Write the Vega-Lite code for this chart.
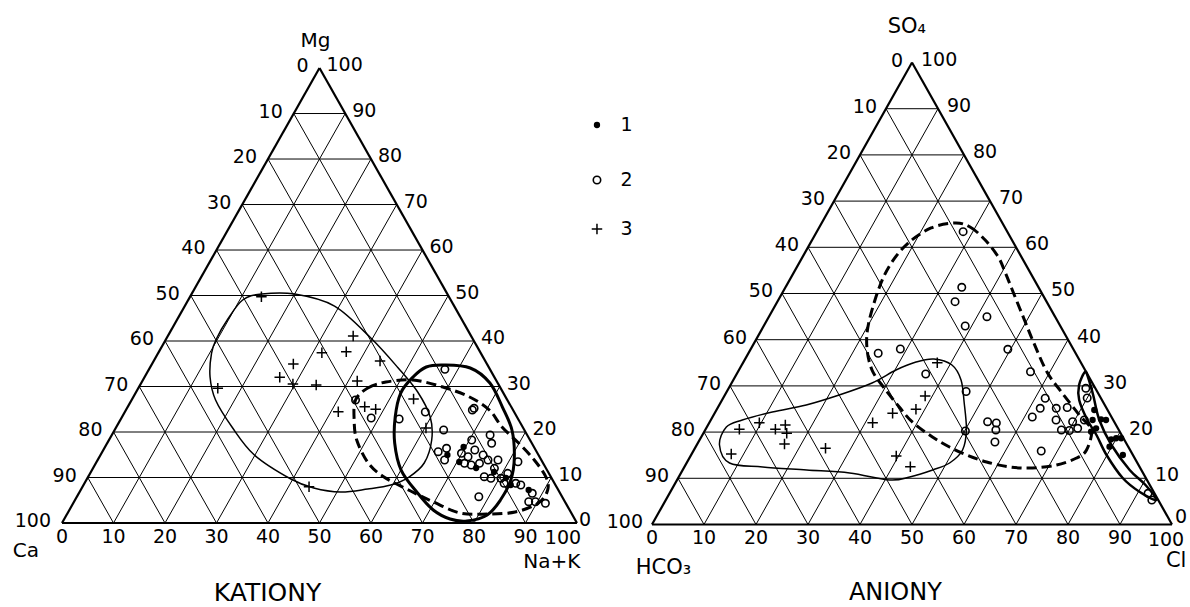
{
"$schema": "https://vega.github.io/schema/vega-lite/v6.json",
"padding": 0,
"background": "white",
"spacing": 0,
"bounds": "flush",
"config": {"view": {"stroke": null}, "concat": {"spacing": 0}, "text": {"font": "DejaVu Sans", "color": "black"}},
"datasets": {
"grid": [
{"kind":"grid","u":5,"v":10,"u2":95,"v2":10},{"kind":"grid","u":10,"v":20,"u2":90,"v2":20},{"kind":"grid","u":15,"v":30,"u2":85,"v2":30},{"kind":"grid","u":20,"v":40,"u2":80,"v2":40},{"kind":"grid","u":25,"v":50,"u2":75,"v2":50},{"kind":"grid","u":30,"v":60,"u2":70,"v2":60},{"kind":"grid","u":35,"v":70,"u2":65,"v2":70},{"kind":"grid","u":40,"v":80,"u2":60,"v2":80},{"kind":"grid","u":45,"v":90,"u2":55,"v2":90},
{"kind":"grid","u":10,"v":0,"u2":55,"v2":90},{"kind":"grid","u":20,"v":0,"u2":60,"v2":80},{"kind":"grid","u":30,"v":0,"u2":65,"v2":70},{"kind":"grid","u":40,"v":0,"u2":70,"v2":60},{"kind":"grid","u":50,"v":0,"u2":75,"v2":50},{"kind":"grid","u":60,"v":0,"u2":80,"v2":40},{"kind":"grid","u":70,"v":0,"u2":85,"v2":30},{"kind":"grid","u":80,"v":0,"u2":90,"v2":20},{"kind":"grid","u":90,"v":0,"u2":95,"v2":10},
{"kind":"grid","u":90,"v":0,"u2":45,"v2":90},{"kind":"grid","u":80,"v":0,"u2":40,"v2":80},{"kind":"grid","u":70,"v":0,"u2":35,"v2":70},{"kind":"grid","u":60,"v":0,"u2":30,"v2":60},{"kind":"grid","u":50,"v":0,"u2":25,"v2":50},{"kind":"grid","u":40,"v":0,"u2":20,"v2":40},{"kind":"grid","u":30,"v":0,"u2":15,"v2":30},{"kind":"grid","u":20,"v":0,"u2":10,"v2":20},{"kind":"grid","u":10,"v":0,"u2":5,"v2":10},
{"kind":"frame","u":0,"v":0,"u2":100,"v2":0},{"kind":"frame","u":0,"v":0,"u2":50,"v2":100},{"kind":"frame","u":100,"v":0,"u2":50,"v2":100}
],
"ticks": [
{"edge":"L","t":"0","u":50,"v":100},{"edge":"L","t":"10","u":45,"v":90},{"edge":"L","t":"20","u":40,"v":80},{"edge":"L","t":"30","u":35,"v":70},{"edge":"L","t":"40","u":30,"v":60},{"edge":"L","t":"50","u":25,"v":50},{"edge":"L","t":"60","u":20,"v":40},{"edge":"L","t":"70","u":15,"v":30},{"edge":"L","t":"80","u":10,"v":20},{"edge":"L","t":"90","u":5,"v":10},{"edge":"L","t":"100","u":0,"v":0},
{"edge":"R","t":"0","u":100,"v":0},{"edge":"R","t":"10","u":95,"v":10},{"edge":"R","t":"20","u":90,"v":20},{"edge":"R","t":"30","u":85,"v":30},{"edge":"R","t":"40","u":80,"v":40},{"edge":"R","t":"50","u":75,"v":50},{"edge":"R","t":"60","u":70,"v":60},{"edge":"R","t":"70","u":65,"v":70},{"edge":"R","t":"80","u":60,"v":80},{"edge":"R","t":"90","u":55,"v":90},{"edge":"R","t":"100","u":50,"v":100},
{"edge":"B","t":"0","u":0,"v":0},{"edge":"B","t":"10","u":10,"v":0},{"edge":"B","t":"20","u":20,"v":0},{"edge":"B","t":"30","u":30,"v":0},{"edge":"B","t":"40","u":40,"v":0},{"edge":"B","t":"50","u":50,"v":0},{"edge":"B","t":"60","u":60,"v":0},{"edge":"B","t":"70","u":70,"v":0},{"edge":"B","t":"80","u":80,"v":0},{"edge":"B","t":"90","u":90,"v":0},{"edge":"B","t":"100","u":100,"v":0}
],
"titles": [
{"panel":"K","role":"axis","t":"Mg","u":49.2,"v":106.0},{"panel":"K","role":"axis","t":"Ca","u":-7.0,"v":-6.2},{"panel":"K","role":"axis","t":"Na+K","u":95.1,"v":-8.6},{"panel":"K","role":"name","t":"KATIONY","u":39.9,"v":-15.3},
{"panel":"A","role":"axis","t":"SO₄","u":49.0,"v":107.7},{"panel":"A","role":"axis","t":"HCO₃","u":2.2,"v":-9.4},{"panel":"A","role":"axis","t":"Cl","u":100.8,"v":-7.9},{"panel":"A","role":"name","t":"ANIONY","u":46.8,"v":-14.9}
],
"legend": [
{"type":1,"t":"1","u":-10.58,"lu":-4.9,"v":86.47},{"type":2,"t":"2","u":-10.58,"lu":-4.9,"v":74.57},{"type":3,"t":"3","u":-10.58,"lu":-4.9,"v":63.96}
],
"points": [
{"panel":"K","type":3,"u":38.72,"v":49.74},{"panel":"K","type":3,"u":56.54,"v":41.10},{"panel":"K","type":3,"u":55.20,"v":37.65},{"panel":"K","type":3,"u":50.46,"v":37.43},{"panel":"K","type":3,"u":44.92,"v":34.95},{"panel":"K","type":3,"u":42.28,"v":32.02},{"panel":"K","type":3,"u":44.84,"v":30.55},{"panel":"K","type":3,"u":49.36,"v":30.33},{"panel":"K","type":3,"u":30.25,"v":29.60},{"panel":"K","type":3,"u":61.76,"v":35.60},{"panel":"K","type":3,"u":57.33,"v":31.21},{"panel":"K","type":3,"u":53.65,"v":24.46},{"panel":"K","type":3,"u":58.78,"v":25.56},{"panel":"K","type":3,"u":60.91,"v":24.99},{"panel":"K","type":3,"u":68.27,"v":27.25},{"panel":"K","type":3,"u":47.97,"v":7.98},{"panel":"K","type":3,"u":70.68,"v":20.88},
{"panel":"K","type":2,"u":57.00,"v":27.03},{"panel":"K","type":2,"u":60.04,"v":23.08},{"panel":"K","type":2,"u":70.55,"v":24.40},{"panel":"K","type":2,"u":65.47,"v":22.86},{"panel":"K","type":2,"u":74.11,"v":20.44},{"panel":"K","type":2,"u":80.02,"v":25.21},{"panel":"K","type":2,"u":74.35,"v":33.78},{"panel":"K","type":2,"u":79.56,"v":18.24},{"panel":"K","type":2,"u":83.13,"v":19.34},{"panel":"K","type":2,"u":83.43,"v":17.52},{"panel":"K","type":2,"u":73.05,"v":15.67},{"panel":"K","type":2,"u":74.67,"v":16.42},{"panel":"K","type":2,"u":74.29,"v":13.85},{"panel":"K","type":2,"u":77.57,"v":15.32},{"panel":"K","type":2,"u":78.85,"v":14.57},{"panel":"K","type":2,"u":80.16,"v":16.04},{"panel":"K","type":2,"u":81.77,"v":14.95},{"panel":"K","type":2,"u":78.16,"v":13.12},{"panel":"K","type":2,"u":79.46,"v":12.75},{"panel":"K","type":2,"u":81.07,"v":13.12},{"panel":"K","type":2,"u":82.72,"v":13.85},{"panel":"K","type":2,"u":84.66,"v":13.85},{"panel":"K","type":2,"u":83.97,"v":12.02},{"panel":"K","type":2,"u":82.0,"v":10.18},{"panel":"K","type":2,"u":83.29,"v":9.82},{"panel":"K","type":2,"u":85.23,"v":9.82},{"panel":"K","type":2,"u":86.55,"v":10.92},{"panel":"K","type":2,"u":85.85,"v":8.73},{"panel":"K","type":2,"u":88.12,"v":8.73},{"panel":"K","type":2,"u":89.09,"v":8.35},{"panel":"K","type":2,"u":80.94,"v":5.78},{"panel":"K","type":2,"u":88.54,"v":13.47},{"panel":"K","type":2,"u":91.32,"v":6.53},{"panel":"K","type":2,"u":90.63,"v":4.68},{"panel":"K","type":2,"u":91.93,"v":4.68},{"panel":"K","type":2,"u":93.87,"v":4.33},{"panel":"K","type":2,"u":79.68,"v":24.84},
{"panel":"K","type":1,"u":74.84,"v":14.95},{"panel":"K","type":1,"u":77.14,"v":13.41},{"panel":"K","type":1,"u":80.42,"v":12.09},{"panel":"K","type":1,"u":83.89,"v":11.21},{"panel":"K","type":1,"u":86.20,"v":9.89},{"panel":"K","type":1,"u":87.14,"v":8.35},{"panel":"K","type":1,"u":77.98,"v":16.70},{"panel":"K","type":1,"u":90.62,"v":7.25},
{"panel":"A","type":3,"u":16.80,"v":20.61},{"panel":"A","type":3,"u":20.64,"v":22.03},{"panel":"A","type":3,"u":23.73,"v":20.61},{"panel":"A","type":3,"u":25.64,"v":21.54},{"panel":"A","type":3,"u":25.91,"v":19.74},{"panel":"A","type":3,"u":25.48,"v":17.42},{"panel":"A","type":3,"u":15.24,"v":15.26},{"panel":"A","type":3,"u":33.37,"v":16.49},{"panel":"A","type":3,"u":42.43,"v":22.03},{"panel":"A","type":3,"u":46.27,"v":24.07},{"panel":"A","type":3,"u":50.76,"v":24.94},{"panel":"A","type":3,"u":52.53,"v":27.81},{"panel":"A","type":3,"u":54.86,"v":35.02},{"panel":"A","type":3,"u":46.97,"v":14.83},{"panel":"A","type":3,"u":49.68,"v":12.51},
{"panel":"A","type":2,"u":59.83,"v":63.38},{"panel":"A","type":2,"u":59.57,"v":51.34},{"panel":"A","type":2,"u":58.28,"v":48.23},{"panel":"A","type":2,"u":64.41,"v":44.98},{"panel":"A","type":2,"u":60.23,"v":42.97},{"panel":"A","type":2,"u":43.50,"v":37.06},{"panel":"A","type":2,"u":47.76,"v":37.99},{"panel":"A","type":2,"u":52.64,"v":32.58},{"panel":"A","type":2,"u":60.41,"v":28.79},{"panel":"A","type":2,"u":60.27,"v":20.24},{"panel":"A","type":2,"u":68.43,"v":37.92},{"panel":"A","type":2,"u":72.79,"v":33.07},{"panel":"A","type":2,"u":64.54,"v":22.25},{"panel":"A","type":2,"u":66.22,"v":21.97},{"panel":"A","type":2,"u":66.13,"v":20.45},{"panel":"A","type":2,"u":65.95,"v":17.86},{"panel":"A","type":2,"u":74.85,"v":15.91},{"panel":"A","type":2,"u":75.61,"v":27.32},{"panel":"A","type":2,"u":74.66,"v":25.15},{"panel":"A","type":2,"u":73.13,"v":23.27},{"panel":"A","type":2,"u":77.74,"v":25.15},{"panel":"A","type":2,"u":79.85,"v":25.32},{"panel":"A","type":2,"u":77.70,"v":22.62},{"panel":"A","type":2,"u":78.73,"v":20.45},{"panel":"A","type":2,"u":80.89,"v":22.25},{"panel":"A","type":2,"u":81.86,"v":20.82},{"panel":"A","type":2,"u":83.14,"v":22.62},{"panel":"A","type":2,"u":83.43,"v":29.48},{"panel":"A","type":2,"u":95.40,"v":6.75},{"panel":"A","type":2,"u":83.69,"v":27.38},{"panel":"A","type":2,"u":80.27,"v":20.35},{"panel":"A","type":2,"u":96.12,"v":5.3},
{"panel":"A","type":1,"u":85.05,"v":24.78},{"panel":"A","type":1,"u":84.73,"v":22.62},{"panel":"A","type":1,"u":86.35,"v":22.77},{"panel":"A","type":1,"u":87.31,"v":22.62},{"panel":"A","type":1,"u":88.30,"v":18.44},{"panel":"A","type":1,"u":89.26,"v":18.66},{"panel":"A","type":1,"u":90.22,"v":18.66},{"panel":"A","type":1,"u":87.98,"v":16.84},{"panel":"A","type":1,"u":90.55,"v":15.04},{"panel":"A","type":1,"u":84.44,"v":20.09},{"panel":"A","type":1,"u":85.40,"v":20.82}
],
"curves": [
{"panel":"K","curve":"A","style":"thin","o":1,"u":45.20,"v":50.33},{"panel":"K","curve":"A","style":"thin","o":2,"u":52.92,"v":47.69},{"panel":"K","curve":"A","style":"thin","o":3,"u":59.97,"v":40.66},{"panel":"K","curve":"A","style":"thin","o":4,"u":65.29,"v":34.07},{"panel":"K","curve":"A","style":"thin","o":5,"u":69.07,"v":28.79},{"panel":"K","curve":"A","style":"thin","o":6,"u":71.50,"v":23.30},{"panel":"K","curve":"A","style":"thin","o":7,"u":71.79,"v":18.24},{"panel":"K","curve":"A","style":"thin","o":8,"u":70.34,"v":13.19},{"panel":"K","curve":"A","style":"thin","o":9,"u":67.37,"v":10.11},{"panel":"K","curve":"A","style":"thin","o":10,"u":63.84,"v":8.35},{"panel":"K","curve":"A","style":"thin","o":11,"u":59.36,"v":7.47},{"panel":"K","curve":"A","style":"thin","o":12,"u":54.11,"v":6.81},{"panel":"K","curve":"A","style":"thin","o":13,"u":48.88,"v":7.69},{"panel":"K","curve":"A","style":"thin","o":14,"u":44.45,"v":9.67},{"panel":"K","curve":"A","style":"thin","o":15,"u":37.36,"v":14.95},{"panel":"K","curve":"A","style":"thin","o":16,"u":33.01,"v":21.10},{"panel":"K","curve":"A","style":"thin","o":17,"u":29.82,"v":27.03},{"panel":"K","curve":"A","style":"thin","o":18,"u":28.75,"v":32.09},{"panel":"K","curve":"A","style":"thin","o":19,"u":29.04,"v":37.36},{"panel":"K","curve":"A","style":"thin","o":20,"u":30.07,"v":40.66},{"panel":"K","curve":"A","style":"thin","o":21,"u":32.09,"v":44.62},{"panel":"K","curve":"A","style":"thin","o":22,"u":35.08,"v":49.01},{"panel":"K","curve":"A","style":"thin","o":23,"u":38.79,"v":50.33},
{"panel":"K","curve":"B","style":"dashed","o":1,"u":57.00,"v":27.03},{"panel":"K","curve":"B","style":"dashed","o":2,"u":59.38,"v":29.67},{"panel":"K","curve":"B","style":"dashed","o":3,"u":62.90,"v":30.99},{"panel":"K","curve":"B","style":"dashed","o":4,"u":68.15,"v":31.43},{"panel":"K","curve":"B","style":"dashed","o":5,"u":73.95,"v":29.89},{"panel":"K","curve":"B","style":"dashed","o":6,"u":79.15,"v":27.69},{"panel":"K","curve":"B","style":"dashed","o":7,"u":82.98,"v":24.84},{"panel":"K","curve":"B","style":"dashed","o":8,"u":85.44,"v":21.10},{"panel":"K","curve":"B","style":"dashed","o":9,"u":88.67,"v":17.58},{"panel":"K","curve":"B","style":"dashed","o":10,"u":91.71,"v":13.85},{"panel":"K","curve":"B","style":"dashed","o":11,"u":93.97,"v":10.11},{"panel":"K","curve":"B","style":"dashed","o":12,"u":94.31,"v":7.25},{"panel":"K","curve":"B","style":"dashed","o":13,"u":92.51,"v":4.40},{"panel":"K","curve":"B","style":"dashed","o":14,"u":88.01,"v":2.42},{"panel":"K","curve":"B","style":"dashed","o":15,"u":82.56,"v":1.98},{"panel":"K","curve":"B","style":"dashed","o":16,"u":77.32,"v":2.20},{"panel":"K","curve":"B","style":"dashed","o":17,"u":72.12,"v":4.62},{"panel":"K","curve":"B","style":"dashed","o":18,"u":67.70,"v":7.03},{"panel":"K","curve":"B","style":"dashed","o":19,"u":62.52,"v":10.11},{"panel":"K","curve":"B","style":"dashed","o":20,"u":59.47,"v":13.19},{"panel":"K","curve":"B","style":"dashed","o":21,"u":57.23,"v":18.24},{"panel":"K","curve":"B","style":"dashed","o":22,"u":56.73,"v":22.64},
{"panel":"K","curve":"C","style":"heavy","o":1,"u":74.04,"v":34.73},{"panel":"K","curve":"C","style":"heavy","o":2,"u":79.27,"v":34.07},{"panel":"K","curve":"C","style":"heavy","o":3,"u":83.09,"v":30.77},{"panel":"K","curve":"C","style":"heavy","o":4,"u":85.52,"v":25.49},{"panel":"K","curve":"C","style":"heavy","o":5,"u":87.37,"v":20.44},{"panel":"K","curve":"C","style":"heavy","o":6,"u":87.84,"v":14.51},{"panel":"K","curve":"C","style":"heavy","o":7,"u":87.16,"v":9.45},{"panel":"K","curve":"C","style":"heavy","o":8,"u":85.14,"v":5.05},{"panel":"K","curve":"C","style":"heavy","o":9,"u":82.56,"v":1.76},{"panel":"K","curve":"C","style":"heavy","o":10,"u":78.65,"v":0.44},{"panel":"K","curve":"C","style":"heavy","o":11,"u":75.36,"v":0.88},{"panel":"K","curve":"C","style":"heavy","o":12,"u":72.09,"v":2.86},{"panel":"K","curve":"C","style":"heavy","o":13,"u":69.05,"v":6.59},{"panel":"K","curve":"C","style":"heavy","o":14,"u":65.85,"v":11.65},{"panel":"K","curve":"C","style":"heavy","o":15,"u":64.60,"v":17.58},{"panel":"K","curve":"C","style":"heavy","o":16,"u":64.70,"v":23.30},{"panel":"K","curve":"C","style":"heavy","o":17,"u":65.77,"v":28.57},{"panel":"K","curve":"C","style":"heavy","o":18,"u":68.17,"v":32.09},{"panel":"K","curve":"C","style":"heavy","o":19,"u":70.73,"v":34.29},
{"panel":"A","curve":"D","style":"dashed","o":1,"u":58.28,"v":65.26},{"panel":"A","curve":"D","style":"dashed","o":2,"u":61.17,"v":64.39},{"panel":"A","curve":"D","style":"dashed","o":3,"u":64.07,"v":61.58},{"panel":"A","curve":"D","style":"dashed","o":4,"u":66.59,"v":57.90},{"panel":"A","curve":"D","style":"dashed","o":5,"u":67.96,"v":54.44},{"panel":"A","curve":"D","style":"dashed","o":6,"u":69.52,"v":50.11},{"panel":"A","curve":"D","style":"dashed","o":7,"u":71.86,"v":43.61},{"panel":"A","curve":"D","style":"dashed","o":8,"u":73.43,"v":39.29},{"panel":"A","curve":"D","style":"dashed","o":9,"u":75.96,"v":33.01},{"panel":"A","curve":"D","style":"dashed","o":10,"u":78.88,"v":28.46},{"panel":"A","curve":"D","style":"dashed","o":11,"u":82.17,"v":23.70},{"panel":"A","curve":"D","style":"dashed","o":12,"u":84.50,"v":20.45},{"panel":"A","curve":"D","style":"dashed","o":13,"u":83.56,"v":16.13},{"panel":"A","curve":"D","style":"dashed","o":14,"u":81.65,"v":14.39},{"panel":"A","curve":"D","style":"dashed","o":15,"u":77.81,"v":12.88},{"panel":"A","curve":"D","style":"dashed","o":16,"u":73.20,"v":12.23},{"panel":"A","curve":"D","style":"dashed","o":17,"u":68.78,"v":12.45},{"panel":"A","curve":"D","style":"dashed","o":18,"u":64.34,"v":13.53},{"panel":"A","curve":"D","style":"dashed","o":19,"u":60.49,"v":15.04},{"panel":"A","curve":"D","style":"dashed","o":20,"u":57.21,"v":16.77},{"panel":"A","curve":"D","style":"dashed","o":21,"u":53.93,"v":18.94},{"panel":"A","curve":"D","style":"dashed","o":22,"u":50.06,"v":22.19},{"panel":"A","curve":"D","style":"dashed","o":23,"u":47.55,"v":25.43},{"panel":"A","curve":"D","style":"dashed","o":24,"u":44.64,"v":29.55},{"panel":"A","curve":"D","style":"dashed","o":25,"u":42.31,"v":33.44},{"panel":"A","curve":"D","style":"dashed","o":26,"u":41.32,"v":38.42},{"panel":"A","curve":"D","style":"dashed","o":27,"u":41.67,"v":43.61},{"panel":"A","curve":"D","style":"dashed","o":28,"u":43.74,"v":51.41},{"panel":"A","curve":"D","style":"dashed","o":29,"u":46.02,"v":56.60},{"panel":"A","curve":"D","style":"dashed","o":30,"u":49.26,"v":60.93},{"panel":"A","curve":"D","style":"dashed","o":31,"u":53.67,"v":64.18},
{"panel":"A","curve":"E","style":"thin","o":1,"u":57.68,"v":34.52},{"panel":"A","curve":"E","style":"thin","o":2,"u":59.43,"v":31.28},{"panel":"A","curve":"E","style":"thin","o":3,"u":60.04,"v":26.30},{"panel":"A","curve":"E","style":"thin","o":4,"u":60.46,"v":20.45},{"panel":"A","curve":"E","style":"thin","o":5,"u":59.72,"v":16.13},{"panel":"A","curve":"E","style":"thin","o":6,"u":57.23,"v":13.31},{"panel":"A","curve":"E","style":"thin","o":7,"u":53.97,"v":11.80},{"panel":"A","curve":"E","style":"thin","o":8,"u":49.56,"v":10.28},{"panel":"A","curve":"E","style":"thin","o":9,"u":45.71,"v":9.63},{"panel":"A","curve":"E","style":"thin","o":10,"u":38.01,"v":11.15},{"panel":"A","curve":"E","style":"thin","o":11,"u":29.74,"v":11.80},{"panel":"A","curve":"E","style":"thin","o":12,"u":21.28,"v":12.45},{"panel":"A","curve":"E","style":"thin","o":13,"u":14.92,"v":13.31},{"panel":"A","curve":"E","style":"thin","o":14,"u":12.98,"v":17.21},{"panel":"A","curve":"E","style":"thin","o":15,"u":14.30,"v":21.10},{"panel":"A","curve":"E","style":"thin","o":16,"u":17.37,"v":22.62},{"panel":"A","curve":"E","style":"thin","o":17,"u":23.13,"v":24.35},{"panel":"A","curve":"E","style":"thin","o":18,"u":29.66,"v":25.87},{"panel":"A","curve":"E","style":"thin","o":19,"u":35.99,"v":28.03},{"panel":"A","curve":"E","style":"thin","o":20,"u":42.32,"v":30.63},{"panel":"A","curve":"E","style":"thin","o":21,"u":46.92,"v":33.44},{"panel":"A","curve":"E","style":"thin","o":22,"u":50.76,"v":35.17},{"panel":"A","curve":"E","style":"thin","o":23,"u":54.22,"v":35.82},
{"panel":"A","curve":"F","style":"heavy","o":1,"u":83.27,"v":33.01},{"panel":"A","curve":"F","style":"heavy","o":2,"u":82.13,"v":30.19},{"panel":"A","curve":"F","style":"heavy","o":3,"u":82.15,"v":26.95},{"panel":"A","curve":"F","style":"heavy","o":4,"u":83.72,"v":22.62},{"panel":"A","curve":"F","style":"heavy","o":5,"u":85.47,"v":19.37},{"panel":"A","curve":"F","style":"heavy","o":6,"u":87.41,"v":15.04},{"panel":"A","curve":"F","style":"heavy","o":7,"u":90.52,"v":10.06},{"panel":"A","curve":"F","style":"heavy","o":8,"u":93.81,"v":7.03},{"panel":"A","curve":"F","style":"heavy","o":9,"u":97.0,"v":5.30},{"panel":"A","curve":"F","style":"heavy","o":10,"u":94.9,"v":8.55},{"panel":"A","curve":"F","style":"heavy","o":11,"u":91.86,"v":11.80},{"panel":"A","curve":"F","style":"heavy","o":12,"u":88.36,"v":17.21},{"panel":"A","curve":"F","style":"heavy","o":13,"u":86.02,"v":22.62},{"panel":"A","curve":"F","style":"heavy","o":14,"u":84.84,"v":28.03},{"panel":"A","curve":"F","style":"heavy","o":15,"u":83.9,"v":31.71}
]
},
"hconcat": [
{
"width": 595, "height": 607,
"encoding": {
"x": {"field":"u","type":"quantitative","scale":{"domain":[-12.04,103.5],"nice":false,"zero":false},"axis":null},
"y": {"field":"v","type":"quantitative","scale":{"domain":[-18.46,114.95],"nice":false,"zero":false},"axis":null}
},
"layer": [
{"data":{"name":"grid"},"transform":[{"filter":"datum.kind=='grid'"}],"mark":{"type":"rule","color":"black","strokeWidth":1},"encoding":{"x2":{"field":"u2"},"y2":{"field":"v2"}}},
{"data":{"name":"grid"},"transform":[{"filter":"datum.kind=='frame'"}],"mark":{"type":"rule","color":"black","strokeWidth":2.2},"encoding":{"x2":{"field":"u2"},"y2":{"field":"v2"}}},
{"data":{"name":"curves"},"transform":[{"filter":"datum.panel=='K' && datum.style=='thin'"}],"mark":{"type":"line","interpolate":"cardinal-closed","color":"black","strokeWidth":1.5},"encoding":{"detail":{"field":"curve"},"order":{"field":"o","type":"quantitative"}}},
{"data":{"name":"curves"},"transform":[{"filter":"datum.panel=='K' && datum.style=='dashed'"}],"mark":{"type":"line","interpolate":"cardinal-closed","color":"black","strokeWidth":3,"strokeDash":[10,5]},"encoding":{"detail":{"field":"curve"},"order":{"field":"o","type":"quantitative"}}},
{"data":{"name":"curves"},"transform":[{"filter":"datum.panel=='K' && datum.style=='heavy'"}],"mark":{"type":"line","interpolate":"cardinal-closed","color":"black","strokeWidth":3},"encoding":{"detail":{"field":"curve"},"order":{"field":"o","type":"quantitative"}}},
{"data":{"name":"points"},"transform":[{"filter":"datum.panel=='K' && datum.type==2"}],"mark":{"type":"point","shape":"circle","filled":false,"color":"black","strokeWidth":1.6,"size":55,"opacity":1}},
{"data":{"name":"points"},"transform":[{"filter":"datum.panel=='K' && datum.type==1"}],"mark":{"type":"point","shape":"circle","filled":true,"color":"black","size":40,"opacity":1}},
{"data":{"name":"points"},"transform":[{"filter":"datum.panel=='K' && datum.type==3"}],"mark":{"type":"point","shape":"M-1,0H1M0,-1V1","filled":false,"color":"black","strokeWidth":1.5,"size":110,"opacity":1}},
{"data":{"name":"ticks"},"transform":[{"filter":"datum.edge=='L'"}],"mark":{"type":"text","align":"right","baseline":"middle","dx":-11,"dy":-2,"fontSize":19},"encoding":{"text":{"field":"t"}}},
{"data":{"name":"ticks"},"transform":[{"filter":"datum.edge=='R' && datum.t!='0'"}],"mark":{"type":"text","align":"left","baseline":"middle","dx":7,"dy":-3,"fontSize":19},"encoding":{"text":{"field":"t"}}},
{"data":{"name":"ticks"},"transform":[{"filter":"datum.edge=='R' && datum.t=='0'"}],"mark":{"type":"text","align":"left","baseline":"middle","dx":2,"dy":-3,"fontSize":19},"encoding":{"text":{"field":"t"}}},
{"data":{"name":"ticks"},"transform":[{"filter":"datum.edge=='B' && datum.t!='100'"}],"mark":{"type":"text","align":"center","baseline":"top","dy":5,"fontSize":19},"encoding":{"text":{"field":"t"}}},
{"data":{"name":"ticks"},"transform":[{"filter":"datum.edge=='B' && datum.t=='100'"}],"mark":{"type":"text","align":"center","baseline":"top","dx":-14,"dy":6,"fontSize":19},"encoding":{"text":{"field":"t"}}},
{"data":{"name":"titles"},"transform":[{"filter":"datum.panel=='K' && datum.role=='axis'"}],"mark":{"type":"text","align":"center","baseline":"middle","fontSize":20},"encoding":{"text":{"field":"t"}}},
{"data":{"name":"titles"},"transform":[{"filter":"datum.panel=='K' && datum.role=='name'"}],"mark":{"type":"text","align":"center","baseline":"middle","fontSize":25},"encoding":{"text":{"field":"t"}}}
]
},
{
"width": 595, "height": 607,
"encoding": {
"x": {"field":"u","type":"quantitative","scale":{"domain":[-10.96,103.46],"nice":false,"zero":false},"axis":null},
"y": {"field":"v","type":"quantitative","scale":{"domain":[-17.86,113.53],"nice":false,"zero":false},"axis":null}
},
"layer": [
{"data":{"name":"grid"},"transform":[{"filter":"datum.kind=='grid'"}],"mark":{"type":"rule","color":"black","strokeWidth":1},"encoding":{"x2":{"field":"u2"},"y2":{"field":"v2"}}},
{"data":{"name":"grid"},"transform":[{"filter":"datum.kind=='frame'"}],"mark":{"type":"rule","color":"black","strokeWidth":2.2},"encoding":{"x2":{"field":"u2"},"y2":{"field":"v2"}}},
{"data":{"name":"curves"},"transform":[{"filter":"datum.panel=='A' && datum.style=='thin'"}],"mark":{"type":"line","interpolate":"cardinal-closed","color":"black","strokeWidth":1.5},"encoding":{"detail":{"field":"curve"},"order":{"field":"o","type":"quantitative"}}},
{"data":{"name":"curves"},"transform":[{"filter":"datum.panel=='A' && datum.style=='dashed'"}],"mark":{"type":"line","interpolate":"cardinal-closed","color":"black","strokeWidth":3,"strokeDash":[10,5]},"encoding":{"detail":{"field":"curve"},"order":{"field":"o","type":"quantitative"}}},
{"data":{"name":"curves"},"transform":[{"filter":"datum.panel=='A' && datum.style=='heavy'"}],"mark":{"type":"line","interpolate":"cardinal-closed","color":"black","strokeWidth":2.5},"encoding":{"detail":{"field":"curve"},"order":{"field":"o","type":"quantitative"}}},
{"data":{"name":"points"},"transform":[{"filter":"datum.panel=='A' && datum.type==2"}],"mark":{"type":"point","shape":"circle","filled":false,"color":"black","strokeWidth":1.6,"size":55,"opacity":1}},
{"data":{"name":"points"},"transform":[{"filter":"datum.panel=='A' && datum.type==1"}],"mark":{"type":"point","shape":"circle","filled":true,"color":"black","size":40,"opacity":1}},
{"data":{"name":"points"},"transform":[{"filter":"datum.panel=='A' && datum.type==3"}],"mark":{"type":"point","shape":"M-1,0H1M0,-1V1","filled":false,"color":"black","strokeWidth":1.5,"size":110,"opacity":1}},
{"data":{"name":"legend"},"transform":[{"filter":"datum.type==1"}],"mark":{"type":"point","shape":"circle","filled":true,"color":"black","size":40,"opacity":1}},
{"data":{"name":"legend"},"transform":[{"filter":"datum.type==2"}],"mark":{"type":"point","shape":"circle","filled":false,"color":"black","strokeWidth":1.6,"size":55,"opacity":1}},
{"data":{"name":"legend"},"transform":[{"filter":"datum.type==3"}],"mark":{"type":"point","shape":"M-1,0H1M0,-1V1","filled":false,"color":"black","strokeWidth":1.5,"size":110,"opacity":1}},
{"data":{"name":"legend"},"mark":{"type":"text","align":"center","baseline":"middle","fontSize":19},"encoding":{"x":{"field":"lu","type":"quantitative"},"text":{"field":"t"}}},
{"data":{"name":"ticks"},"transform":[{"filter":"datum.edge=='L'"}],"mark":{"type":"text","align":"right","baseline":"middle","dx":-9,"dy":-2,"fontSize":19},"encoding":{"text":{"field":"t"}}},
{"data":{"name":"ticks"},"transform":[{"filter":"datum.edge=='R' && datum.t!='0'"}],"mark":{"type":"text","align":"left","baseline":"middle","dx":9,"dy":-3,"fontSize":19},"encoding":{"text":{"field":"t"}}},
{"data":{"name":"ticks"},"transform":[{"filter":"datum.edge=='R' && datum.t=='0'"}],"mark":{"type":"text","align":"left","baseline":"middle","dx":3,"dy":-7,"fontSize":19},"encoding":{"text":{"field":"t"}}},
{"data":{"name":"ticks"},"transform":[{"filter":"datum.edge=='B' && datum.t!='100'"}],"mark":{"type":"text","align":"center","baseline":"top","dy":5,"fontSize":19},"encoding":{"text":{"field":"t"}}},
{"data":{"name":"ticks"},"transform":[{"filter":"datum.edge=='B' && datum.t=='100'"}],"mark":{"type":"text","align":"center","baseline":"top","dx":-6,"dy":7,"fontSize":19},"encoding":{"text":{"field":"t"}}},
{"data":{"name":"titles"},"transform":[{"filter":"datum.panel=='A' && datum.role=='axis'"}],"mark":{"type":"text","align":"center","baseline":"middle","fontSize":21},"encoding":{"text":{"field":"t"}}},
{"data":{"name":"titles"},"transform":[{"filter":"datum.panel=='A' && datum.role=='name'"}],"mark":{"type":"text","align":"center","baseline":"middle","fontSize":24},"encoding":{"text":{"field":"t"}}}
]
}
]
}
